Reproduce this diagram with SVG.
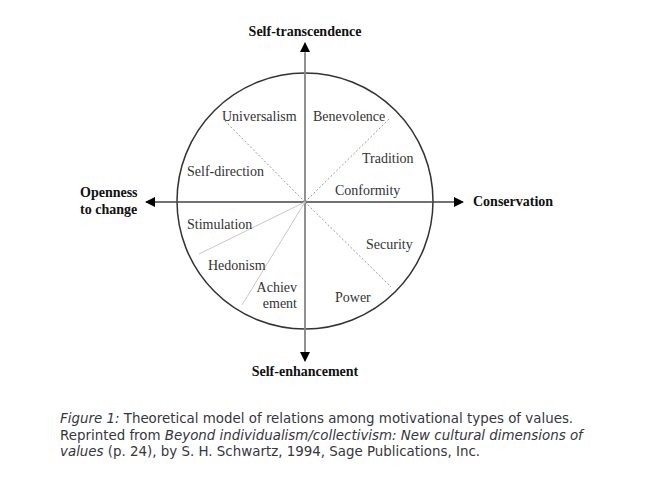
<svg xmlns="http://www.w3.org/2000/svg" width="662" height="480" viewBox="0 0 662 480">
<style>
.lbl{font-family:"Liberation Serif","Times New Roman",serif;font-size:14px;fill:#333}
.ax{font-family:"Liberation Serif","Times New Roman",serif;font-size:14px;font-weight:bold;fill:#111}
.cap{font-family:"DejaVu Sans",Verdana,sans-serif;font-size:13.4px;fill:#363640}
.dash{stroke:#999;stroke-width:1;stroke-dasharray:2,2;fill:none}
.solid{stroke:#c8c8c8;stroke-width:1;fill:none}
</style>
<defs>
<marker id="ah" viewBox="0 0 10 10" refX="9" refY="5" markerWidth="10" markerHeight="10" markerUnits="userSpaceOnUse" orient="auto">
<path d="M0,0 L10,5 L0,10 z" fill="#000"/>
</marker>
</defs>
<rect width="662" height="480" fill="#fff"/>
<g id="circle">
<circle cx="305" cy="201" r="128" fill="none" stroke="#333" stroke-width="1.5"/>
</g>
<g id="connectors">
<line x1="305" y1="352" x2="305" y2="43" stroke="#888" stroke-width="1.5" marker-end="url(#ah)"/>
<line x1="305" y1="53" x2="305" y2="361" stroke="#888" stroke-width="1.5" marker-end="url(#ah)"/>
<line x1="455" y1="202" x2="146" y2="202" stroke="#444" stroke-width="1.2" marker-end="url(#ah)"/>
<line x1="155" y1="202" x2="463" y2="202" stroke="#444" stroke-width="1.2" marker-end="url(#ah)"/>
<line class="dash" x1="305" y1="202" x2="223" y2="119"/>
<line class="dash" x1="305" y1="202" x2="389" y2="119"/>
<line class="dash" x1="305" y1="202" x2="391" y2="287"/>
<line class="solid" x1="305" y1="202" x2="199" y2="254"/>
<line class="solid" x1="305" y1="202" x2="242" y2="305"/>
</g>
<g id="axis-top"><text class="ax" x="305" y="36" text-anchor="middle">Self-transcendence</text></g>
<g id="axis-bottom"><text class="ax" x="305" y="376" text-anchor="middle">Self-enhancement</text></g>
<g id="axis-left"><text class="ax" x="80" y="197">Openness</text><text class="ax" x="80" y="214">to change</text></g>
<g id="axis-right"><text class="ax" x="473" y="206">Conservation</text></g>
<g id="universalism"><text class="lbl" x="222" y="121">Universalism</text></g>
<g id="benevolence"><text class="lbl" x="313" y="121">Benevolence</text></g>
<g id="tradition"><text class="lbl" x="362" y="163">Tradition</text></g>
<g id="self-direction"><text class="lbl" x="187" y="176">Self-direction</text></g>
<g id="conformity"><text class="lbl" x="335" y="195">Conformity</text></g>
<g id="stimulation"><text class="lbl" x="187" y="229">Stimulation</text></g>
<g id="security"><text class="lbl" x="366" y="249">Security</text></g>
<g id="hedonism"><text class="lbl" x="208" y="270">Hedonism</text></g>
<g id="achievement"><text class="lbl" x="297" y="292" text-anchor="end">Achiev</text><text class="lbl" x="297" y="308" text-anchor="end">ement</text></g>
<g id="power"><text class="lbl" x="335" y="302">Power</text></g>
<g id="caption">
<text class="cap" x="60" y="423"><tspan font-style="italic">Figure 1:</tspan> Theoretical model of relations among motivational types of values.</text>
<text class="cap" x="60" y="440">Reprinted from <tspan font-style="italic">Beyond individualism/collectivism: New cultural dimensions of</tspan></text>
<text class="cap" x="60" y="456"><tspan font-style="italic">values</tspan> (p. 24), by S. H. Schwartz, 1994, Sage Publications, Inc.</text>
</g>
</svg>
